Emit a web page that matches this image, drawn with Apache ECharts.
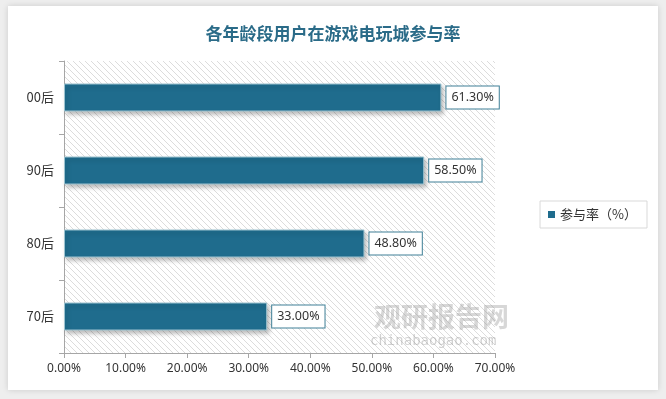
<!DOCTYPE html>
<html>
<head>
<meta charset="utf-8">
<script src="https://cdn.jsdelivr.net/npm/echarts@6/dist/echarts.min.js"></script>
<style>
  html, body { margin: 0; padding: 0; background: #eeeeee; }
  #chart { width: 666px; height: 399px; }
</style>
</head>
<body>
<div id="chart"></div>
<script>
// 数据
var categories = ['70后', '80后', '90后', '00后'];
var rates = [33.0, 48.8, 58.5, 61.3];
var seriesName = '参与率（%）';
var titleText = '各年龄段用户在游戏电玩城参与率';

// 斜线底纹
let makeHatch = () => {
    let c = document.createElement('canvas');
    c.width = 6;
    c.height = 6;
    let ctx = c.getContext('2d');
    ctx.fillStyle = '#ffffff';
    ctx.fillRect(0, 0, 6, 6);
    ctx.strokeStyle = '#dcdcdc';
    ctx.lineWidth = 1;
    ctx.beginPath();
    ctx.moveTo(0, 0); ctx.lineTo(6, 6);
    ctx.moveTo(-3, 3); ctx.lineTo(3, 9);
    ctx.moveTo(3, -3); ctx.lineTo(9, 3);
    ctx.stroke();
    return c;
}

let chart = echarts.init(document.getElementById('chart'));

let option = {
    backgroundColor: '#eeeeee',
    animation: false,
    graphic: [{
        type: 'rect',
        z: -10,
        shape: { x: 8, y: 6, width: 650, height: 384 },
        style: {
            fill: '#ffffff',
            shadowBlur: 6,
            shadowColor: 'rgba(0,0,0,0.15)'
        }
    }, {
        type: 'text',
        z: 1,
        left: 374,
        top: 303,
        style: {
            text: '观研报告网',
            font: 'bold 27px "Noto Sans CJK SC"',
            fill: 'rgba(140,140,140,0.35)'
        }
    }, {
        type: 'text',
        z: 1,
        left: 370,
        top: 334,
        style: {
            text: 'chinabaogao.com',
            font: '14px "DejaVu Sans Mono"',
            fill: 'rgba(140,140,140,0.4)'
        }
    }],
    title: {
        text: titleText,
        left: 'center',
        top: 20,
        textStyle: {
            fontFamily: 'Noto Sans CJK SC',
            fontSize: 17,
            fontWeight: 'bold',
            color: '#2a6b88'
        }
    },
    legend: {
        data: [seriesName],
        right: 19,
        top: 201,
        orient: 'vertical',
        padding: [7, 10, 7, 8],
        borderColor: '#d9d9d9',
        borderWidth: 1,
        itemWidth: 7,
        itemHeight: 7,
        itemGap: 4,
        icon: 'rect',
        itemStyle: { borderWidth: 0 },
        textStyle: {
            fontFamily: 'Noto Sans CJK SC',
            fontSize: 13,
            color: '#333333'
        }
    },
    grid: {
        left: 64,
        right: 171,
        top: 61,
        bottom: 46,
        show: true,
        borderWidth: 0,
        backgroundColor: { image: makeHatch(), repeat: 'repeat' }
    },
    xAxis: {
        type: 'value',
        min: 0,
        max: 70,
        interval: 10,
        splitLine: { show: false },
        axisLine: { show: true, lineStyle: { color: '#a6a6a6' } },
        axisTick: { show: true, length: 5, lineStyle: { color: '#a6a6a6' } },
        axisLabel: {
            formatter: v => v.toFixed(2) + '%',
            color: '#333333',
            fontFamily: 'Noto Sans',
            fontSize: 12,
            margin: 10
        }
    },
    yAxis: {
        type: 'category',
        data: categories,
        axisLine: { show: true, lineStyle: { color: '#a6a6a6' } },
        axisTick: { show: true, length: 5, lineStyle: { color: '#a6a6a6' } },
        axisLabel: {
            color: '#333333',
            fontFamily: 'Noto Sans CJK SC',
            fontSize: 13,
            margin: 10
        }
    },
    series: [{
        name: seriesName,
        type: 'bar',
        data: rates,
        barWidth: 28,
        itemStyle: {
            color: '#1f6c8d',
            borderColor: '#9cc3d0',
            borderWidth: 1,
            shadowBlur: 4,
            shadowOffsetX: 2,
            shadowOffsetY: 3,
            shadowColor: 'rgba(0,0,0,0.25)'
        },
        label: {
            show: true,
            position: 'right',
            distance: 5,
            formatter: p => p.value.toFixed(2) + '%',
            color: '#333333',
            fontFamily: 'Noto Sans',
            fontSize: 12.5,
            backgroundColor: '#ffffff',
            borderColor: '#3f7f96',
            borderWidth: 1,
            padding: [5, 5, 4, 5]
        }
    }]
};

chart.setOption(option);
</script>
</body>
</html>
